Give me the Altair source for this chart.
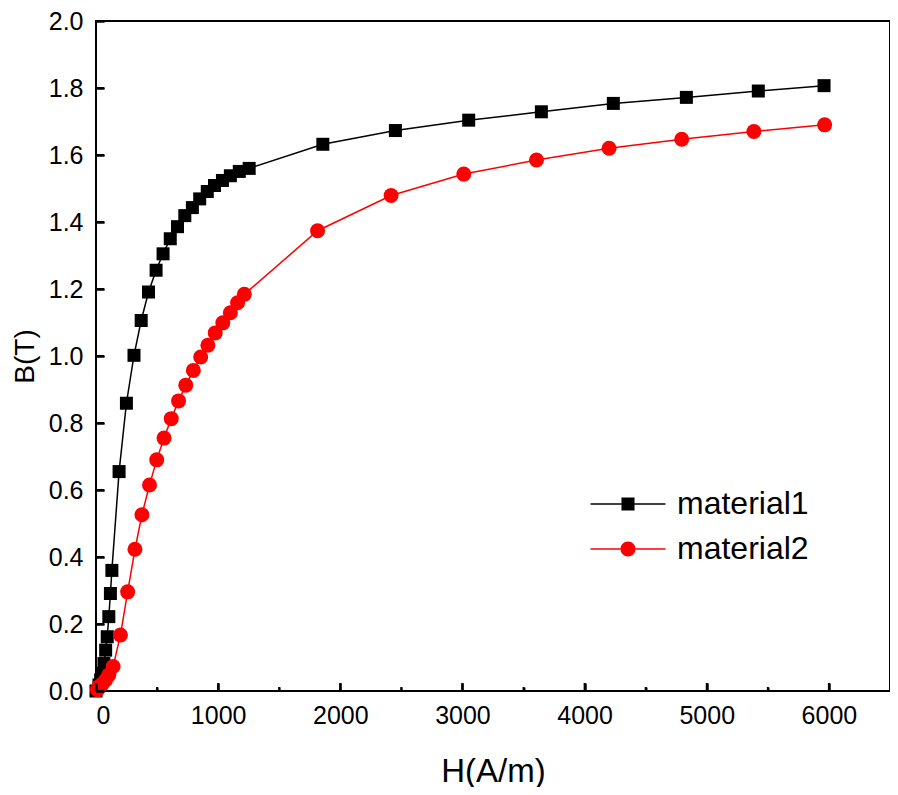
import altair as alt
import pandas as pd

# material1 (black squares)
h1 = [0, 24, 38, 51, 65, 79, 92, 105, 118, 130, 189, 249, 311, 370, 430, 492,
      549, 608, 667, 727, 789, 849, 911, 970, 1035, 1100, 1173, 1254,
      1857, 2451, 3051, 3646, 4235, 4833, 5422, 5960]
b1 = [0.0, 0.018, 0.033, 0.053, 0.082, 0.122, 0.162, 0.222, 0.291, 0.360, 0.655, 0.859, 1.002, 1.106, 1.191, 1.256,
      1.305, 1.350, 1.386, 1.419, 1.443, 1.469, 1.491, 1.509, 1.524, 1.538, 1.551, 1.560,
      1.632, 1.673, 1.704, 1.729, 1.754, 1.772, 1.791, 1.807]

# material2 (red circles)
h2 = [12, 24, 51, 78, 105, 140, 200, 259, 319, 376, 438, 497, 557, 616, 676, 735,
      797, 857, 916, 976, 1038, 1100, 1159, 1214, 1814, 2416, 3011, 3606, 4200, 4795, 5386, 5965]
b2 = [0.004, 0.013, 0.021, 0.033, 0.048, 0.073, 0.167, 0.296, 0.423, 0.526, 0.615, 0.690, 0.755, 0.813, 0.866, 0.913,
      0.957, 0.997, 1.032, 1.069, 1.099, 1.129, 1.159, 1.184, 1.374, 1.479, 1.543, 1.585, 1.620, 1.647, 1.670, 1.690]

series_names = ["material1", "material2"]
series_colors = ["black", "red"]
x_major = [0, 1000, 2000, 3000, 4000, 5000, 6000]
x_minor = [500, 1500, 2500, 3500, 4500, 5500]
y_major = [0.0, 0.2, 0.4, 0.6, 0.8, 1.0, 1.2, 1.4, 1.6, 1.8, 2.0]

df = pd.concat([
    pd.DataFrame({"H": h1, "B": b1, "series": series_names[0]}),
    pd.DataFrame({"H": h2, "B": b2, "series": series_names[1]}),
])

FONT = "Liberation Sans"

# legend glyphs: line with marker in the middle (units scaled by sqrt(size)/2)
SQ_PATH = ("M-5,-0.1L-0.87,-0.1L-0.87,0.1L-5,0.1Z "
           "M0.87,-0.1L5,-0.1L5,0.1L0.87,0.1Z "
           "M-0.87,-0.87L0.87,-0.87L0.87,0.87L-0.87,0.87Z")
CI_PATH = ("M-5,-0.1L-1,-0.1L-1,0.1L-5,0.1Z "
           "M1,-0.1L5,-0.1L5,0.1L1,0.1Z "
           "M-1,0A1,1,0,1,0,1,0A1,1,0,1,0,-1,0Z")

xscale = alt.Scale(domain=[0, 6500], nice=False, zero=False)
yscale = alt.Scale(domain=[0, 2.0], nice=False)


def cscale():
    return alt.Scale(domain=series_names, range=series_colors)


def tick_axis(orient, values, size):
    # tick-only axis pulled inside the frame so its ticks point inward
    return alt.Axis(orient=orient, values=values, tickSize=size, offset=-size, tickWidth=2,
                    tickColor="black", labels=False, domain=False, grid=False, title=None,
                    zindex=1)


base = alt.Chart(df)

lines = base.mark_line(strokeWidth=1.5).encode(
    x=alt.X("H:Q", scale=xscale, axis=tick_axis("bottom", x_minor, 4)),
    y=alt.Y("B:Q", scale=yscale, axis=tick_axis("left", y_major, 8)),
    color=alt.Color("series:N", scale=cscale(), legend=None),
    detail="series:N",
)

points = base.mark_point(filled=True, opacity=1, strokeWidth=0).encode(
    x=alt.X("H:Q", scale=xscale, title="H(A/m)",
            axis=alt.Axis(orient="bottom", values=x_major, format="d", ticks=True, tickSize=8,
                          offset=-8, tickWidth=2, tickColor="black", tickOpacity=1,
                          domain=False, grid=False, zindex=1,
                          labelFontSize=25, labelFont=FONT, labelColor="black", labelPadding=12,
                          titleFontSize=33, titleFont=FONT, titleFontWeight="normal",
                          titleColor="black", titlePadding=27)),
    y=alt.Y("B:Q", scale=yscale, title="B(T)",
            axis=alt.Axis(orient="left", values=y_major, format=".1f", ticks=True, tickSize=8,
                          offset=-8, tickWidth=2, tickColor="black", tickOpacity=1,
                          domain=False, grid=False, zindex=1,
                          labelFontSize=25, labelFont=FONT, labelColor="black", labelPadding=13,
                          titleFontSize=28, titleFont=FONT, titleFontWeight="normal",
                          titleColor="black", titlePadding=9)),
    color=alt.Color("series:N", scale=cscale(), legend=None),
    shape=alt.Shape("series:N", scale=alt.Scale(domain=series_names, range=["square", "circle"]),
                    legend=None),
    size=alt.Size("series:N", scale=alt.Scale(domain=series_names, range=[169, 225]), legend=None),
)

leg = dict(orient="none", legendX=516, legendY=467, title=None,
           symbolSize=225, symbolOpacity=1, symbolStrokeWidth=0, labelFontSize=32,
           labelFont=FONT, labelColor="black", labelOffset=33, rowPadding=13)

legend_layer = base.mark_point(filled=True, opacity=0, strokeWidth=0, size=225).encode(
    x=alt.X("H:Q", scale=xscale, axis=tick_axis("bottom", x_major, 8)),
    y=alt.Y("B:Q", scale=yscale, axis=None),
    color=alt.Color("series:N", scale=cscale(), legend=alt.Legend(**leg)),
    shape=alt.Shape("series:N", scale=alt.Scale(domain=series_names, range=[SQ_PATH, CI_PATH]),
                    legend=alt.Legend(**leg)),
)

# inward tick marks drawn from the tick value lists through the shared scales
xmaj_df = pd.DataFrame({"H": x_major, "B": [0.0] * len(x_major)})
xmin_df = pd.DataFrame({"H": x_minor, "B": [0.0] * len(x_minor)})
ytk_df = pd.DataFrame({"H": [0] * len(y_major), "B": y_major})

xmaj_ticks = alt.Chart(xmaj_df).mark_tick(
    orient="vertical", size=8, thickness=2, color="black", opacity=1, yOffset=-4
).encode(x=alt.X("H:Q", scale=xscale, axis=None), y=alt.Y("B:Q", scale=yscale, axis=None))

xmin_ticks = alt.Chart(xmin_df).mark_tick(
    orient="vertical", size=4, thickness=2, color="black", opacity=1, yOffset=-2
).encode(x=alt.X("H:Q", scale=xscale, axis=None), y=alt.Y("B:Q", scale=yscale, axis=None))

y_ticks = alt.Chart(ytk_df).mark_tick(
    orient="horizontal", size=8, thickness=2, color="black", opacity=1, xOffset=4
).encode(x=alt.X("H:Q", scale=xscale, axis=None), y=alt.Y("B:Q", scale=yscale, axis=None))

chart = alt.layer(lines, points, legend_layer, xmaj_ticks, xmin_ticks, y_ticks).resolve_axis(
    x="independent", y="independent"
).resolve_scale(
    shape="independent", color="independent"
).properties(
    width=794, height=670,
    background="white",
    autosize=alt.AutoSizeParams(type="none"),
    padding={"left": 88, "top": 13, "right": 0, "bottom": 96},
).configure_view(stroke="black", strokeWidth=2, strokeOpacity=1)

chart.save("out.html", embed_options={"renderer": "svg", "actions": False})
